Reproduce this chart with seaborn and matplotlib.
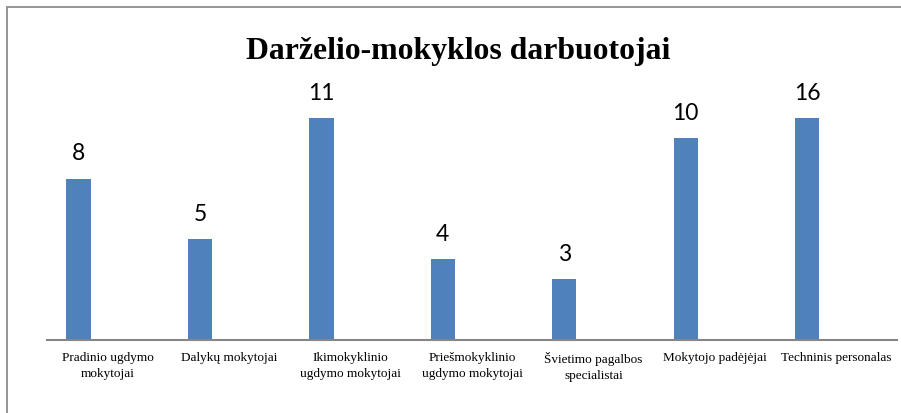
import matplotlib
matplotlib.use("Agg")
import matplotlib.pyplot as plt
import seaborn as sns
import pandas as pd
from matplotlib.patches import Rectangle

categories = [
    "Pradinio ugdymo\nmokytojai",
    "Dalykų mokytojai",
    "Ikimokyklinio\nugdymo mokytojai",
    "Priešmokyklinio\nugdymo mokytojai",
    "Švietimo pagalbos\nspecialistai",
    "Mokytojo padėjėjai",
    "Techninis personalas",
]
counts = [8, 5, 11, 4, 3, 10, 16]
title = "Darželio-mokyklos darbuotojai"

df = pd.DataFrame({"kategorija": categories, "kiekis": counts})

sns.set_theme(style="white")
plt.rcParams["font.family"] = ["Liberation Serif", "DejaVu Serif"]
plt.rcParams["text.color"] = "black"
plt.rcParams["xtick.color"] = "black"

fig = plt.figure(figsize=(9.01, 4.14), dpi=100)
ax = fig.add_axes([47 / 901, 1 - 341 / 414, 850 / 901, 222 / 414])

sns.barplot(data=df, x="kategorija", y="kiekis", color="#4F81BD",
            width=0.2, saturation=1, ax=ax)

# Excel-style clustered offset: bars sit left of the category centre
for p in ax.patches:
    p.set_x(p.get_x() - 0.24)
    p.set_edgecolor("none")

ymax = 11
ax.set_ylim(0, ymax)
ax.set_xlim(-0.5, len(categories) - 0.5)

for p, v in zip(ax.patches, counts):
    ax.annotate(str(v), (p.get_x() + p.get_width() / 2, min(v, ymax)),
                xytext=(0, 11), textcoords="offset points",
                ha="center", va="bottom", fontsize=16.5, color="black",
                family=["Lato", "DejaVu Sans"], clip_on=False)

ax.set_xlabel("")
ax.set_ylabel("")
ax.set_yticks([])
ax.tick_params(axis="x", length=0, pad=8, labelsize=9.5, labelcolor="black")
for lbl in ax.get_xticklabels():
    lbl.set_linespacing(1.45)
for s in ["top", "right", "left"]:
    ax.spines[s].set_visible(False)
ax.spines["bottom"].set_color("#868686")
ax.spines["bottom"].set_linewidth(1.5)

fig.text(0.508, 1 - 51 / 414, title, ha="center", va="center",
         fontsize=22.9, fontweight="bold", color="black")

fig.patches.append(Rectangle((7 / 901, -0.1), 1.1, 1 - 8 / 414 + 0.1,
                             transform=fig.transFigure, fill=False,
                             edgecolor="#8c8c8c", linewidth=1.3))

fig.savefig("out.png", dpi=100)
